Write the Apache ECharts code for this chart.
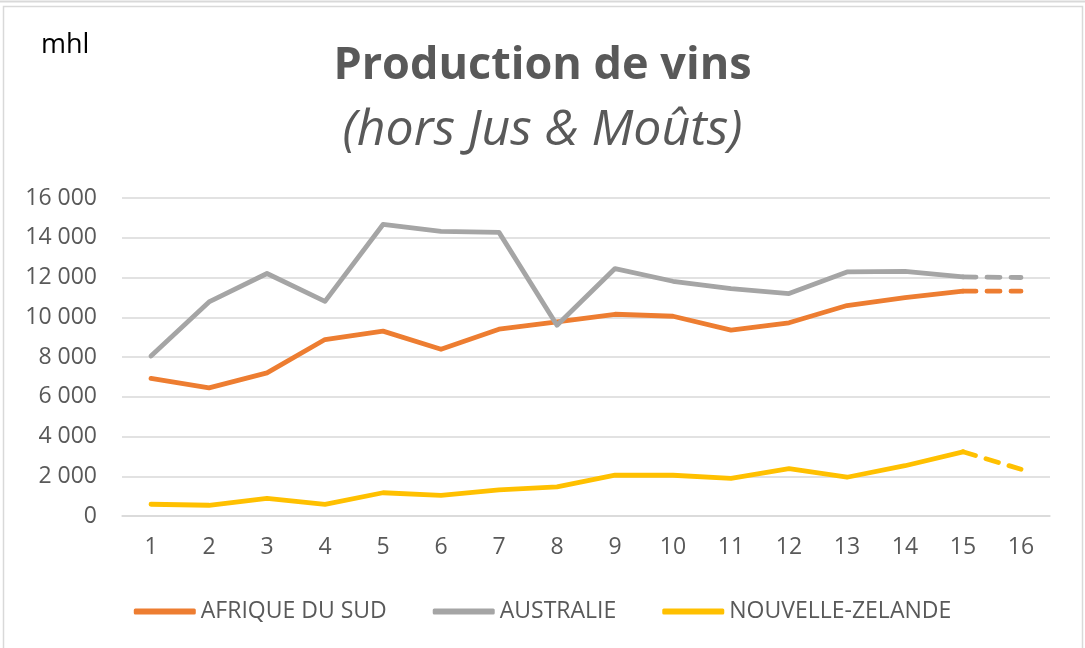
<!DOCTYPE html>
<html>
<head>
<meta charset="utf-8">
<script src="https://cdn.jsdelivr.net/npm/echarts@6/dist/echarts.min.js"></script>
<style>
html,body{margin:0;padding:0;background:#fff;}
#chart{width:1085px;height:648px;}
</style>
</head>
<body>
<div id="chart"></div>
<script>
const categories = ['1','2','3','4','5','6','7','8','9','10','11','12','13','14','15','16'];
const seriesNames = ['AFRIQUE DU SUD','AUSTRALIE','NOUVELLE-ZELANDE'];
const afriqueDuSud = [6920,6450,7200,8880,9300,8390,9400,9770,10150,10050,9350,9720,10590,10990,11310,11310];
const australie = [8050,10770,12200,10800,14670,14320,14270,9600,12450,11810,11440,11190,12280,12310,12030,12000];
const nouvelleZelande = [590,540,890,590,1170,1040,1310,1470,2060,2050,1890,2380,1950,2530,3230,2350];
const yTicks = { min: 0, max: 16000, interval: 2000 };
const colors = ['#ED7D31','#A5A5A5','#FFC000'];
const lastSolidIndex = 14; // point 15: dashed from here to last

const chart = echarts.init(document.getElementById('chart'), null, {renderer:'canvas'});
const fontFam = '"Open Sans", "Noto Sans", sans-serif';

function fmt(v){ return String(v).replace(/\B(?=(\d{3})+(?!\d))/g,' '); }

const allData = [afriqueDuSud, australie, nouvelleZelande];
const series = [];
allData.forEach((arr, i) => {
  series.push({
    name: seriesNames[i], type: 'line', symbol: 'none', smooth: false,
    data: arr.map((v, k) => k <= lastSolidIndex ? v : null),
    lineStyle: { color: colors[i], width: 4.8, cap: 'round', join: 'round' },
    itemStyle: { color: colors[i] },
    z: 3 + i
  });
});
allData.forEach((arr, i) => {
  series.push({
    name: seriesNames[i], type: 'line', symbol: 'none',
    data: arr.map((v, k) => k >= lastSolidIndex ? v : null),
    lineStyle: { color: colors[i], width: 4.8, type: [13, 11], cap: 'round' },
    itemStyle: { color: colors[i] },
    z: 3 + i
  });
});

chart.setOption({
  animation: false,
  backgroundColor: '#ffffff',
  title: [
    { text: 'Production de vins', left: 'center', top: 39,
      textStyle: { fontFamily: fontFam, fontWeight: 'bold', fontSize: 45, color: '#595959' } },
    { text: '(hors Jus & Moûts)', left: 'center', top: 101,
      textStyle: { fontFamily: fontFam, fontStyle: 'italic', fontWeight: 'normal', fontSize: 50, color: '#595959' } },
    { text: 'mhl', left: 36, top: 27,
      textStyle: { fontFamily: fontFam, fontWeight: 'normal', fontSize: 27, color: '#000000' } }
  ],
  legend: {
    data: seriesNames, bottom: 20, left: 'center',
    icon: 'roundRect', itemWidth: 62, itemHeight: 6, itemGap: 46,
    itemStyle: { borderWidth: 0 },
    textStyle: { fontFamily: fontFam, fontSize: 23, color: '#595959' }
  },
  grid: { left: 122, right: 35, top: 198, bottom: 132, containLabel: false },
  xAxis: {
    type: 'category', data: categories, boundaryGap: true,
    axisLine: { show: true, lineStyle: { color: '#d9d9d9', width: 1.5 } },
    axisTick: { show: false },
    axisLabel: { fontFamily: fontFam, fontSize: 23, color: '#595959', margin: 20 }
  },
  yAxis: {
    type: 'value', min: yTicks.min, max: yTicks.max, interval: yTicks.interval,
    axisLine: { show: false }, axisTick: { show: false },
    splitLine: { lineStyle: { color: '#d9d9d9', width: 1.5 } },
    axisLabel: { fontFamily: fontFam, fontSize: 23, color: '#595959', margin: 25, formatter: fmt }
  },
  graphic: [
    { type: 'rect', shape: { x: 3.5, y: 6.5, width: 1079, height: 650 }, style: { fill: 'none', stroke: '#d9d9d9', lineWidth: 1.5 }, silent: true },
    { type: 'line', shape: { x1: 0, y1: 1.5, x2: 1085, y2: 1.5 }, style: { stroke: '#d9d9d9', lineWidth: 2 }, silent: true }
  ],
  series: series
});
</script>
</body>
</html>
